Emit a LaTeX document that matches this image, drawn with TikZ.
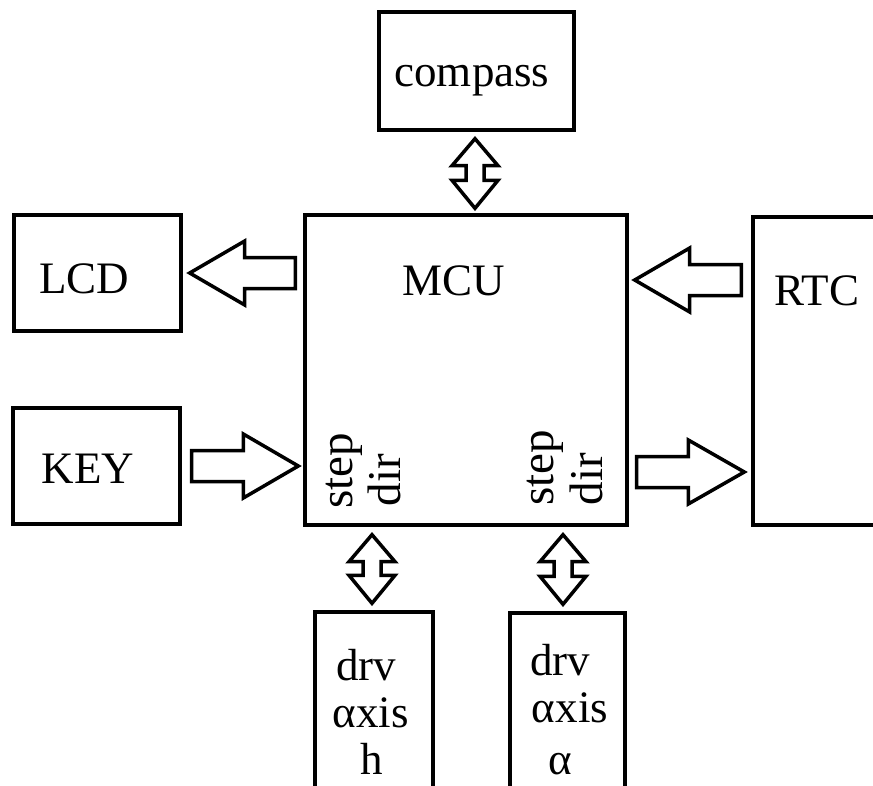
\documentclass[tikz,border=0pt]{standalone}
\usepackage{fontspec}
\setmainfont{Liberation Serif}
\usetikzlibrary{calc}
\tikzset{
  box/.style={draw, line width=3.4pt, inner sep=0pt},
  lbl/.style={font=\fontsize{45}{50}\selectfont, anchor=base, inner sep=0pt},
  vlbl/.style={font=\fontsize{47}{50}\selectfont, anchor=base, inner sep=0pt, rotate=90},
  blk/.style={draw, line width=3.5pt, fill=white, line join=miter},
}
\newcommand\harrow[3]{\draw[blk] ($(#1)+(0,15.5)$) -- ($(#2)+(#3,15.5)$) -- ($(#2)+(#3,32)$) -- (#2) -- ($(#2)+(#3,-32)$) -- ($(#2)+(#3,-15.5)$) -- ($(#1)+(0,-15.5)$) -- cycle;}
\newcommand\vdarrow[2]{\draw[blk] (#1) -- ($(#1)+(23,-27)$) -- ($(#1)+(9,-27)$) -- ($(#2)+(9,28)$) -- ($(#2)+(23,28)$) -- (#2) -- ($(#2)+(-23,28)$) -- ($(#2)+(-9,28)$) -- ($(#1)+(-9,-27)$) -- ($(#1)+(-23,-27)$) -- cycle;}
\begin{document}
\begin{tikzpicture}[x=1pt,y=1pt]
\useasboundingbox (0,0) rectangle (873,-785);
\clip (0,0) rectangle (873,-785);
% boxes
\node[box, minimum width=195pt, minimum height=118pt] (compass) at (476.5,-71) {};
\node[box, minimum width=167pt, minimum height=116pt] (lcd) at (97.5,-273) {};
\node[box, minimum width=167pt, minimum height=116pt] (key) at (96.5,-466) {};
\node[box, minimum width=322pt, minimum height=310pt] (mcu) at (466,-370) {};
\node[box, minimum width=140pt, minimum height=308pt] (rtc) at (823,-371) {};
\node[box, minimum width=118pt, minimum height=188pt] (drvh) at (374,-706) {};
\node[box, minimum width=115pt, minimum height=187pt] (drva) at (567.5,-706.5) {};
% texts
\node[lbl] (tcompass) at (472,-86) {compass};
\node[lbl] (tlcd) at (84,-293) {LCD};
\node[lbl] (tkey) at (88,-483) {KEY};
\node[lbl] (tmcu) at (453.5,-295) {MCU};
\node[lbl] (trtc) at (817,-305) {RTC};
\node[vlbl] (tstepa) at (352,-471) {step};
\node[vlbl] (tdira) at (400,-480) {dir};
\node[vlbl] (tstepb) at (553,-467.5) {step};
\node[vlbl] (tdirb) at (602,-479) {dir};
\node[lbl] (hdrv) at (366,-680) {drv};
\node[lbl] (haxis) at (370.5,-727) {αxis};
\node[lbl] (hh) at (372,-774) {h};
\node[lbl] (adrv) at (560,-675) {drv};
\node[lbl] (aaxis) at (570,-722) {αxis};
\node[lbl] (aal) at (560,-774) {α};
% arrow end points
\coordinate (a1tail) at ($(mcu.west |- lcd.east)+(-8,0)$);
\coordinate (a1tip) at ($(lcd.east)+(7,0)$);
\coordinate (a2tail) at ($(key.east)+(10,0)$);
\coordinate (a2tip) at ($(mcu.west |- key.east)+(-5,0)$);
\coordinate (a3tail) at ($(rtc.west)+(-10,91)$);
\coordinate (a3tip) at ($(mcu.east)+(6,90)$);
\coordinate (a4tail) at ($(mcu.east)+(8,-102)$);
\coordinate (a4tip) at ($(rtc.west)+(-7,-101)$);
\coordinate (c1) at ($(compass.south)+(-1.5,-7)$);
\coordinate (c2) at ($(compass.south |- mcu.north)+(-1.5,5)$);
\coordinate (h1) at ($(mcu.south -| drvh.north)+(-2,-8)$);
\coordinate (h2) at ($(drvh.north)+(-2,7)$);
\coordinate (v1) at ($(mcu.south -| drva.north)+(-4.5,-8)$);
\coordinate (v2) at ($(drva.north)+(-4.5,7)$);
% block arrows
\harrow{a1tail}{a1tip}{55}
\harrow{a2tail}{a2tip}{-55}
\harrow{a3tail}{a3tip}{55}
\harrow{a4tail}{a4tip}{-56}
\vdarrow{c1}{c2}
\vdarrow{h1}{h2}
\vdarrow{v1}{v2}
\end{tikzpicture}
\end{document}
